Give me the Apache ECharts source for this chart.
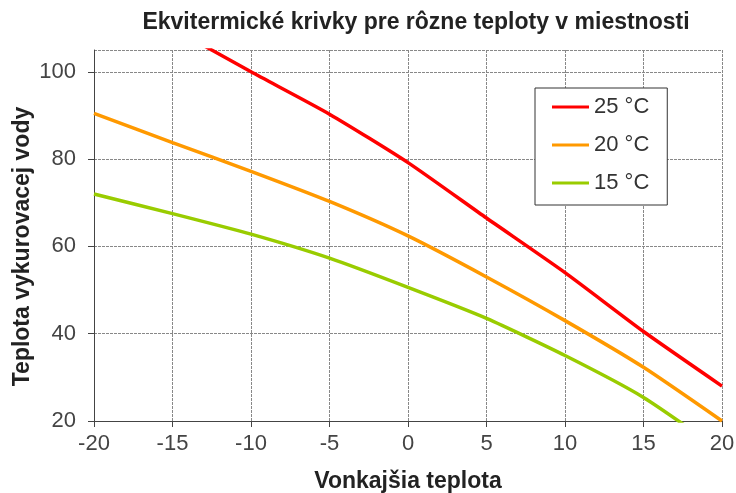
<!DOCTYPE html>
<html>
<head>
<meta charset="utf-8">
<script src="https://cdn.jsdelivr.net/npm/echarts@6/dist/echarts.min.js"></script>
<style>
  html, body { margin: 0; padding: 0; background: #fff; }
  #chart { width: 736px; height: 493px; }
</style>
</head>
<body>
<div id="chart"></div>
<script>
// vonkajšia teplota (os x)
let outdoorTemp = [-20, -15, -10, -5, 0, 5, 10, 15, 20];
/**teplota vykurovacej vody pre jednotlivé krivky */
let water25 = [120, 110, 100, 90.3, 79.2, 66.5, 54, 40.5, 28];
let water20 = [90.5, 83.8, 77.2, 70.3, 62.4, 53, 43, 32.3, 20];
let water15 = [72, 67.5, 62.8, 57.3, 50.6, 43.5, 35, 25.4, 13];
let seriesNames = ['25 °C', '20 °C', '15 °C'];
let seriesColors = ['#ff0000', '#ff9900', '#99cc00'];

let pairs = function (ys) {
  return outdoorTemp.map((x, i) => [x, ys[i]]);
};
let curves = [water25, water20, water15];

let chart = echarts.init(document.getElementById('chart'));
let font = '"Liberation Sans", Arial, sans-serif';

let option = {
  animation: false,
  textStyle: { fontFamily: font },
  title: {
    text: 'Ekvitermické krivky pre rôzne teploty v miestnosti',
    left: 411,
    textAlign: 'center',
    top: 6,
    textStyle: { fontSize: 23, fontWeight: 'bold', color: '#222', fontFamily: font }
  },
  grid: { left: 94, right: 14, top: 50, bottom: 72, containLabel: false, outerBoundsMode: 'none' },
  legend: {
    orient: 'vertical',
    left: 535,
    top: 88,
    data: seriesNames,
    icon: 'rect',
    itemWidth: 37,
    itemHeight: 3,
    itemGap: 16,
    padding: [8, 18, 11, 17],
    backgroundColor: '#fff',
    borderColor: '#333',
    borderWidth: 1,
    borderRadius: 0,
    textStyle: { fontSize: 22, color: '#333', fontFamily: font }
  },
  xAxis: {
    type: 'value',
    min: -20,
    max: 20,
    interval: 5,
    name: 'Vonkajšia teplota',
    nameLocation: 'middle',
    nameGap: 49,
    nameMoveOverlap: false,
    nameTextStyle: { fontSize: 23, fontWeight: 'bold', color: '#222' },
    axisLine: { show: true, onZero: false, lineStyle: { color: '#444', width: 1 } },
    axisTick: { show: true, length: 6, lineStyle: { color: '#444' } },
    axisLabel: { fontSize: 22, color: '#444', margin: 12 },
    splitLine: { show: true, lineStyle: { color: '#888', type: [3, 1] } }
  },
  yAxis: {
    type: 'value',
    min: 20,
    max: 105,
    interval: 20,
    name: 'Teplota vykurovacej vody',
    nameLocation: 'middle',
    nameGap: 60,
    nameMoveOverlap: false,
    nameTextStyle: { fontSize: 23, fontWeight: 'bold', color: '#222', padding: [0, 22, 0, 0] },
    axisLine: { show: true, onZero: false, lineStyle: { color: '#444', width: 1 } },
    axisTick: { show: true, length: 6, lineStyle: { color: '#444' } },
    axisLabel: { fontSize: 22, color: '#444', margin: 18, showMaxLabel: false },
    splitLine: { show: true, lineStyle: { color: '#888', type: [3, 1] } }
  },
  series: curves.map((ys, i) => {
    return {
      name: seriesNames[i],
      type: 'line',
      data: pairs(ys),
      smooth: 0.2,
      symbol: 'none',
      clip: true,
      lineStyle: { width: 3.5, color: seriesColors[i] },
      itemStyle: { color: seriesColors[i] }
    };
  })
};
chart.setOption(option);
</script>
</body>
</html>
